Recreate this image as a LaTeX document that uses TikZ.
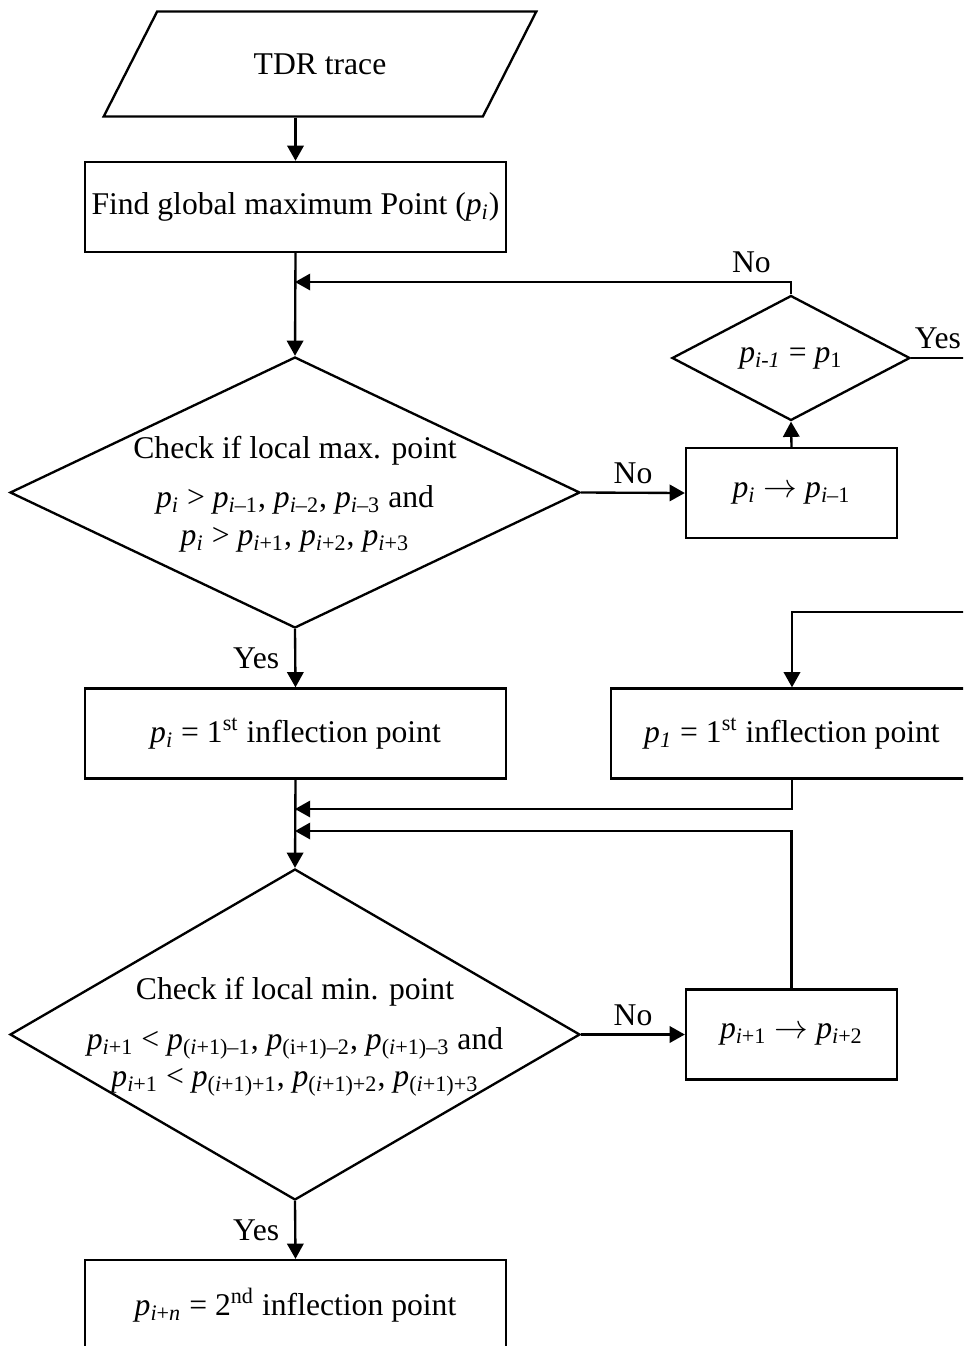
\documentclass[tikz,border=0pt]{standalone}
\usepackage{fontspec}
\setmainfont{Liberation Serif}
\usetikzlibrary{shapes.geometric}
\usetikzlibrary{arrows.meta}

\newcommand{\pxu}{0.015cm}
\newcommand{\pp}[1]{\textit{p}\textsubscript{#1}}
\newcommand{\ii}{\textit{i}}

\tikzset{
    box/.style={draw, rectangle, inner sep=0, minimum width=421*\pxu, minimum height=90*\pxu},
    smallbox/.style={box, minimum width=211*\pxu},
    decision/.style={draw, diamond, inner sep=0, minimum width=570*\pxu},
    flow/.style={-{Triangle[length=6.5pt, width=7pt]}},
}

\begin{document}
\begin{tikzpicture}[x=0.015cm, y=-0.015cm, line width=1pt, font=\fontsize{13.5}{16}\selectfont]
    \useasboundingbox (0,0) rectangle (963,1346);
    \clip (0,0) rectangle (963,1346);

    \node (tdr) at (320,64) [draw, trapezium, trapezium left angle=44, trapezium right angle=136,
        trapezium stretches=true, minimum width=433*\pxu, minimum height=105*\pxu, inner sep=0] {TDR trace};
    \node (find) at (295.5,207) [box] {Find global maximum Point (\pp{\ii})};

    % local maximum search
    \node (maxchk) at (295,492.5) [decision, minimum height=271*\pxu] {};
    \node (maxtxt) at (295,494) [align=center] {Check if local max. point\\[5pt]
        \pp{\ii} > \pp{\ii–1}, \pp{\ii–2}, \pp{\ii–3} and\\
        \pp{\ii} > \pp{\ii+1}, \pp{\ii+2}, \pp{\ii+3}};
    \node (back) at (791.5,493) [smallbox] {\pp{\ii} $\rightarrow$ \pp{\ii–1}};
    \node (first) at (791,358) [decision, minimum width=238*\pxu, minimum height=90*\pxu] {\pp{\textit{i-1}} = \pp{1}};

    \node (infl1) at (295.5,733.5) [box] {\pp{\ii} = 1\textsuperscript{st} inflection point};
    \node (infl1b) at (792,733.5) [box, minimum width=362*\pxu] {\pp{\textit{1}} = 1\textsuperscript{st} inflection point};

    % local minimum search
    \node (minchk) at (295,1034.5) [decision, minimum height=331*\pxu] {};
    \node (mintxt) at (295,1037) [align=center] {Check if local min. point\\[5pt]
        \pp{\ii+1} < \pp{(\ii+1)–1}, \pp{(i+1)–2}, \pp{(\ii+1)–3} and\\
        \pp{\ii+1} < \pp{(\ii+1)+1}, \pp{(\ii+1)+2}, \pp{(\ii+1)+3}};
    \node (fwd) at (791.5,1034.5) [smallbox] {\pp{\ii+1} $\rightarrow$ \pp{\ii+2}};
    \node (infl2) at (295.5,1305) [box] {\pp{\ii+\textit{n}} = 2\textsuperscript{nd} inflection point};

    \coordinate (j1) at (295,282);
    \coordinate (j2) at (295,809);
    \coordinate (j3) at (295,831);
    \coordinate (r) at (990,612);

    \draw[flow] (find.north |- tdr.south) -- (find.north);
    \draw[flow] (find.south) -- (maxchk.north);
    \draw[flow] (first.north) |- node[pos=0.54, above] {No} (j1);
    \draw[flow] (maxchk.east) -- node[above] {No} (back.west);
    \draw[flow] (back.north) -- (first.south);
    \draw[flow] (first.east) -| node[pos=0.17, above] {Yes} (r) -| (infl1b.north);
    \draw[flow] (maxchk.south) -- node[left=3pt] {Yes} (infl1.north);

    \draw[flow] (infl1.south) -- (minchk.north);
    \draw[flow] (infl1b.south) |- (j2);
    \draw[flow] (fwd.north) |- (j3);
    \draw[flow] (minchk.east) -- node[above] {No} (fwd.west);
    \draw[flow] (minchk.south) -- node[left=3pt] {Yes} (infl2.north);
\end{tikzpicture}
\end{document}
